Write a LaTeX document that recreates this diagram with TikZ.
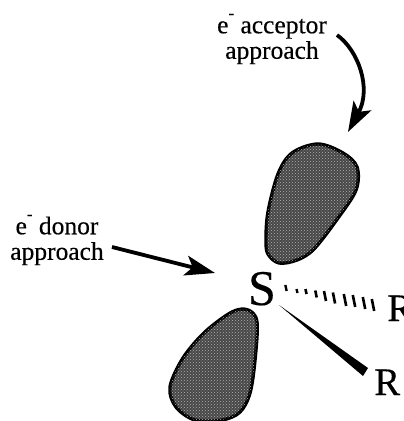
\documentclass[tikz,border=0pt]{standalone}
\usepackage{fontspec}
\setmainfont{Liberation Serif}[FakeBold=0.35]
\usetikzlibrary{arrows.meta,patterns}
\tikzset{
  lobe/.style={draw=black,line width=3.4pt,fill=black!72,line join=round,
    postaction={pattern=crosshatch dots,pattern color=white!70!black}},
  approachlabel/.style={align=center,font=\fontsize{25.5}{25.5}\selectfont,inner sep=0pt},
  approacharrow/.style={line width=3.8pt,-{Stealth[length=30pt,width=20pt,inset=7pt]}},
  atomlabel/.style={inner sep=0pt,anchor=base}
}
\newcommand{\elec}{e\raisebox{0.58em}{\fontsize{17}{17}\selectfont -}}
\begin{document}
\begin{tikzpicture}[x=1pt,y=-1pt]
\path[use as bounding box,clip] (0,0) rectangle (404,421);
% orbital lobes
\draw[lobe] plot[smooth cycle,tension=0.55] coordinates {(318,144) (292,153) (278,174) (268,212) (266,240) (268,254) (279,263) (297,260) (314,249) (338,218) (356,190) (357,167) (343,153)};
\draw[lobe] plot[smooth cycle,tension=0.55] coordinates {(232,312) (248,310) (257,322) (255,360) (250,393) (240,412) (222,420) (195,420) (176,407) (170,387) (183,358) (205,332)};
% labels
\node[approachlabel] (acceptor) at (272,39) {\elec\ acceptor\\approach};
\node[approachlabel] (donor) at (57,240) {\elec\ donor\\approach};
\node[atomlabel,font=\fontsize{50}{50}\selectfont] (sulfur) at (262,305) {S};
\node[atomlabel,font=\fontsize{39}{39}\selectfont,anchor=base west] (rdash) at (387,321) {R};
\node[atomlabel,font=\fontsize{39}{39}\selectfont,anchor=base west] (rwedge) at (374,395) {R};
% approach arrows
\coordinate (acceptorend) at (337,35);
\coordinate (acceptortip) at (348,132);
\coordinate (donorend) at (112,247);
\coordinate (donortip) at (215,273);
\draw[approacharrow] (acceptorend) .. controls (358,50) and (372,88) .. (acceptortip);
\draw[approacharrow] (donorend) -- (donortip);
% bonds
\coordinate (wedgestart) at (279,305);
\coordinate (wedgeupper) at (368,368);
\coordinate (wedgelower) at (363,376);
\fill (wedgestart) -- (wedgeupper) -- (wedgelower) -- cycle;
\foreach \tx/\ty/\tl/\tw in {286/288/3/2.4,297/291/2/2.4,306/291.5/2.5/2.6,316/294/3.5/2.6,325/296/5/2.6,334/298/5.5/2.6,345/300/6/2.6,354/301/6/2.6,364/303/6/2.6,373/305/6/2.6}
  \draw[line width=\tw pt] (\tx-0.2*\tl,\ty-\tl) -- (\tx+0.2*\tl,\ty+\tl);
\end{tikzpicture}
\end{document}
